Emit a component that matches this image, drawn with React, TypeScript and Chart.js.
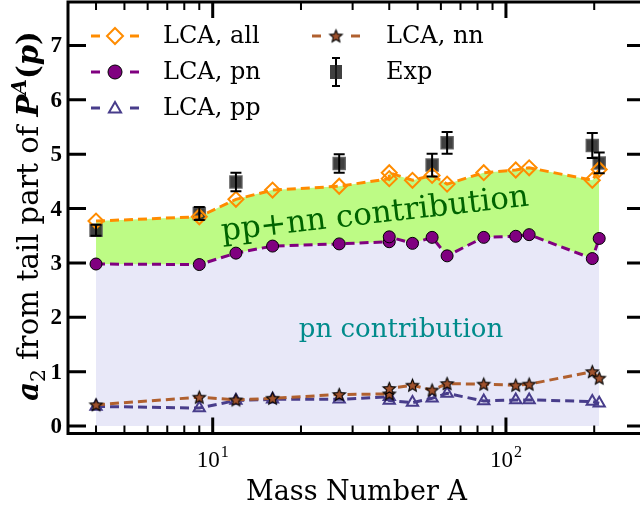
import React, { useEffect, useRef } from 'react';
import { Chart, registerables } from 'chart.js';

Chart.register(...registerables);

// ---------------- data ----------------
const massNumbers = [4, 9, 12, 16, 27, 40, 40, 48, 56, 63, 84, 108, 120, 197, 208];
const lcaAll = [3.77, 3.85, 4.17, 4.34, 4.41, 4.55, 4.66, 4.52, 4.61, 4.45, 4.66, 4.71, 4.75, 4.52, 4.72];
const lcaPn = [2.98, 2.97, 3.18, 3.31, 3.35, 3.39, 3.48, 3.36, 3.47, 3.13, 3.47, 3.49, 3.52, 3.08, 3.45];
const lcaNn = [0.39, 0.53, 0.48, 0.51, 0.58, 0.59, 0.69, 0.75, 0.66, 0.78, 0.77, 0.75, 0.77, 1.0, 0.88];
const lcaPp = [0.36, 0.33, 0.47, 0.49, 0.49, 0.54, 0.47, 0.43, 0.51, 0.6, 0.46, 0.48, 0.48, 0.45, 0.42];
const expMass = [4, 9, 12, 27, 56, 63, 197, 208];
const expA2 = [3.6, 3.91, 4.49, 4.83, 4.8, 5.21, 5.16, 4.84];
const expErr = [0.1, 0.12, 0.17, 0.17, 0.21, 0.2, 0.23, 0.19];
const yTickValues = [0, 1, 2, 3, 4, 5, 6, 7];
const xMajorTicks = [10, 100];
const xMajorLabels = ['1', '2']; // exponents of 10
const xMinorTicks = [4, 5, 6, 7, 8, 9, 20, 30, 40, 50, 60, 70, 80, 90, 200];
const legendLabels = ['LCA, all', 'LCA, pn', 'LCA, pp', 'LCA, nn', 'Exp'];

// ---------------- styles ----------------
const ORANGE = '#ff8c00';
const PURPLE = '#800080';
const PP_COLOR = '#483d8b';
const NN_COLOR = '#b0602f';
const NN_FILL = '#a0522d';
const GREEN_FILL = '#bdfb85';
const LAVENDER = '#e8e8f8';
const SERIF = '"DejaVu Serif", serif';
const NUMF = '"Liberation Serif", serif';

function makeStar(r: number, fill: string): HTMLCanvasElement {
  const size = Math.ceil(r * 2 + 4);
  const c = document.createElement('canvas');
  c.width = size;
  c.height = size;
  const ctx = c.getContext('2d')!;
  const cx = size / 2;
  const cy = size / 2 + 0.5;
  ctx.beginPath();
  for (let i = 0; i < 10; i++) {
    const rad = i % 2 === 0 ? r : r * 0.45;
    const a = -Math.PI / 2 + (i * Math.PI) / 5;
    const px = cx + rad * Math.cos(a);
    const py = cy + rad * Math.sin(a);
    if (i === 0) ctx.moveTo(px, py);
    else ctx.lineTo(px, py);
  }
  ctx.closePath();
  ctx.fillStyle = fill;
  ctx.fill();
  ctx.lineWidth = 1.1;
  ctx.strokeStyle = '#000';
  ctx.stroke();
  return c;
}

function drawDiamond(ctx: CanvasRenderingContext2D, x: number, y: number, r: number) {
  ctx.beginPath();
  ctx.moveTo(x, y - r);
  ctx.lineTo(x + r, y);
  ctx.lineTo(x, y + r);
  ctx.lineTo(x - r, y);
  ctx.closePath();
  ctx.strokeStyle = ORANGE;
  ctx.lineWidth = 2;
  ctx.stroke();
}
function drawCircle(ctx: CanvasRenderingContext2D, x: number, y: number, r: number) {
  ctx.beginPath();
  ctx.arc(x, y, r, 0, Math.PI * 2);
  ctx.fillStyle = PURPLE;
  ctx.fill();
  ctx.strokeStyle = '#000';
  ctx.lineWidth = 1;
  ctx.stroke();
}
function drawTriangle(ctx: CanvasRenderingContext2D, x: number, y: number, r: number) {
  ctx.beginPath();
  let rad = 0;
  ctx.moveTo(x + Math.sin(rad) * r, y - Math.cos(rad) * r);
  rad += (2 * Math.PI) / 3;
  ctx.lineTo(x + Math.sin(rad) * r, y - Math.cos(rad) * r);
  rad += (2 * Math.PI) / 3;
  ctx.lineTo(x + Math.sin(rad) * r, y - Math.cos(rad) * r);
  ctx.closePath();
  ctx.strokeStyle = PP_COLOR;
  ctx.lineWidth = 2;
  ctx.stroke();
}

const customPlugin = {
  id: 'customDecor',
  beforeDatasetsDraw(chart: any) {
    const ctx: CanvasRenderingContext2D = chart.ctx;
    ctx.save();
    // pp+nn contribution
    ctx.translate(375, 215);
    ctx.rotate((-6.5 * Math.PI) / 180);
    ctx.font = `31px ${SERIF}`;
    ctx.fillStyle = '#006400';
    ctx.textAlign = 'center';
    ctx.textBaseline = 'middle';
    ctx.fillText('pp+nn contribution', 0, 0);
    ctx.restore();
    ctx.save();
    ctx.font = `26px ${SERIF}`;
    ctx.fillStyle = '#008b8b';
    ctx.textAlign = 'center';
    ctx.textBaseline = 'middle';
    ctx.fillText('pn contribution', 401, 330);
    ctx.restore();
  },
  afterDatasetsDraw(chart: any) {
    const ctx: CanvasRenderingContext2D = chart.ctx;
    const xs = chart.scales.x;
    const ys = chart.scales.y;
    ctx.save();
    ctx.strokeStyle = '#000';
    ctx.lineWidth = 2;
    for (let i = 0; i < expMass.length; i++) {
      const x = xs.getPixelForValue(expMass[i]);
      const y1 = ys.getPixelForValue(expA2[i] - expErr[i]);
      const y2 = ys.getPixelForValue(expA2[i] + expErr[i]);
      ctx.beginPath();
      ctx.moveTo(x, y1);
      ctx.lineTo(x, y2);
      ctx.moveTo(x - 5.5, y1);
      ctx.lineTo(x + 5.5, y1);
      ctx.moveTo(x - 5.5, y2);
      ctx.lineTo(x + 5.5, y2);
      ctx.stroke();
    }
    ctx.restore();
  },
  afterDraw(chart: any) {
    const ctx: CanvasRenderingContext2D = chart.ctx;
    const a = chart.chartArea;
    const xs = chart.scales.x;
    const ys = chart.scales.y;
    ctx.save();
    ctx.strokeStyle = '#000';
    ctx.fillStyle = '#000';
    ctx.lineCap = 'butt';
    // frame
    ctx.lineWidth = 3;
    ctx.strokeRect(a.left, a.top, a.right - a.left, a.bottom - a.top);
    // y ticks
    ctx.lineWidth = 3;
    for (const v of yTickValues) {
      const y = ys.getPixelForValue(v);
      ctx.beginPath();
      ctx.moveTo(a.left, y);
      ctx.lineTo(a.left + 18, y);
      ctx.moveTo(a.right, y);
      ctx.lineTo(a.right - 18, y);
      ctx.stroke();
    }
    // x major ticks
    for (const v of xMajorTicks) {
      const x = xs.getPixelForValue(v);
      ctx.beginPath();
      ctx.moveTo(x, a.bottom);
      ctx.lineTo(x, a.bottom - 16);
      ctx.moveTo(x, a.top);
      ctx.lineTo(x, a.top + 16);
      ctx.stroke();
    }
    ctx.lineWidth = 2;
    for (const v of xMinorTicks) {
      const x = xs.getPixelForValue(v);
      ctx.beginPath();
      ctx.moveTo(x, a.bottom);
      ctx.lineTo(x, a.bottom - 8);
      ctx.moveTo(x, a.top);
      ctx.lineTo(x, a.top + 8);
      ctx.stroke();
    }
    // y tick labels
    ctx.font = `bold 23px ${NUMF}`;
    ctx.textAlign = 'right';
    ctx.textBaseline = 'middle';
    for (const v of yTickValues) {
      ctx.fillText(String(v), 62, ys.getPixelForValue(v) + 1);
    }
    // x tick labels 10^n
    ctx.textBaseline = 'alphabetic';
    ctx.textAlign = 'left';
    xMajorTicks.forEach((v, i) => {
      const x = xs.getPixelForValue(v);
      ctx.font = `23px ${NUMF}`;
      const w1 = ctx.measureText('10').width;
      ctx.font = `16px ${NUMF}`;
      const w2 = ctx.measureText(xMajorLabels[i]).width;
      const start = x - (w1 + w2 + 1) / 2;
      ctx.font = `23px ${NUMF}`;
      ctx.fillText('10', start, 467);
      ctx.font = `16px ${NUMF}`;
      ctx.fillText(xMajorLabels[i], start + w1 + 1, 457);
    });
    // x title
    ctx.font = `27px ${SERIF}`;
    ctx.textAlign = 'center';
    ctx.fillText('Mass Number A', (a.left + a.right) / 2, 500);

    // y title (rich text, rotated)
    const buildRuns = (S: number) => [
      { t: 'a', f: `italic bold ${S.toFixed(1)}px ${SERIF}`, dy: 0 },
      { t: '2', f: `${(S * 0.7).toFixed(1)}px ${SERIF}`, dy: S * 0.25 },
      { t: ' from tail part of ', f: `${S.toFixed(1)}px ${SERIF}`, dy: 0 },
      { t: 'P', f: `italic bold ${S.toFixed(1)}px ${SERIF}`, dy: 0 },
      { t: 'A', f: `italic bold ${(S * 0.7).toFixed(1)}px ${SERIF}`, dy: -S * 0.42 },
      { t: '(', f: `bold ${S.toFixed(1)}px ${SERIF}`, dy: 0 },
      { t: 'p', f: `italic bold ${S.toFixed(1)}px ${SERIF}`, dy: 0 },
      { t: ')', f: `bold ${S.toFixed(1)}px ${SERIF}`, dy: 0 },
    ];
    const measure = (runs: any[]) => {
      let total = 0;
      const ws: number[] = [];
      for (const r of runs) {
        ctx.font = r.f;
        const w = ctx.measureText(r.t).width;
        ws.push(w);
        total += w;
      }
      return { total, ws };
    };
    let S = 25;
    let m = measure(buildRuns(S));
    S = Math.min(29, S * (370 / m.total));
    const runs = buildRuns(S);
    m = measure(runs);
    ctx.save();
    ctx.translate(38, 216);
    ctx.rotate(-Math.PI / 2);
    ctx.textAlign = 'left';
    ctx.textBaseline = 'alphabetic';
    let cx = -m.total / 2;
    runs.forEach((r, i) => {
      ctx.font = r.f;
      ctx.fillText(r.t, cx, r.dy);
      cx += m.ws[i];
    });
    ctx.restore();

    // legend
    const rows = [36, 72, 108];
    ctx.textAlign = 'left';
    ctx.textBaseline = 'middle';
    const dash = (x1: number, x2: number, y: number, color: string) => {
      ctx.strokeStyle = color;
      ctx.lineWidth = 3;
      ctx.beginPath();
      ctx.moveTo(x1, y);
      ctx.lineTo(x2, y);
      ctx.stroke();
    };
    // col 1
    const c1m = 115;
    dash(91, 100, rows[0], ORANGE);
    dash(130, 139, rows[0], ORANGE);
    drawDiamond(ctx, c1m, rows[0], 8);
    dash(91, 100, rows[1], PURPLE);
    dash(130, 139, rows[1], PURPLE);
    drawCircle(ctx, c1m, rows[1], 7);
    dash(91, 100, rows[2], PP_COLOR);
    dash(130, 139, rows[2], PP_COLOR);
    drawTriangle(ctx, c1m, rows[2] + 1, 7);
    // col 2
    const c2m = 336;
    dash(312, 321, rows[0], NN_COLOR);
    dash(351, 360, rows[0], NN_COLOR);
    const star = makeStar(6.5, NN_FILL);
    ctx.drawImage(star, c2m - star.width / 2, rows[0] - star.height / 2);
    // Exp marker
    ctx.strokeStyle = '#000';
    ctx.lineWidth = 2;
    ctx.beginPath();
    ctx.moveTo(c2m, rows[1] - 14);
    ctx.lineTo(c2m, rows[1] + 14);
    ctx.moveTo(c2m - 4, rows[1] - 14);
    ctx.lineTo(c2m + 4, rows[1] - 14);
    ctx.moveTo(c2m - 4, rows[1] + 14);
    ctx.lineTo(c2m + 4, rows[1] + 14);
    ctx.stroke();
    ctx.fillStyle = 'rgba(30,30,30,0.85)';
    ctx.fillRect(c2m - 6, rows[1] - 7, 12, 14);
    ctx.fillStyle = '#000';
    ctx.font = `24px ${SERIF}`;
    ctx.fillText(legendLabels[0], 163, rows[0] + 1);
    ctx.fillText(legendLabels[1], 163, rows[1] + 1);
    ctx.fillText(legendLabels[2], 163, rows[2] + 1);
    ctx.fillText(legendLabels[3], 386, rows[0] + 1);
    ctx.fillText(legendLabels[4], 386, rows[1] + 1);
    ctx.restore();
  },
};

export default function App() {
  const ref = useRef<HTMLCanvasElement>(null);
  useEffect(() => {
    const canvas = ref.current!;
    const pts = (ys: number[]) => massNumbers.map((x, i) => ({ x, y: ys[i] }));
    const starImg = makeStar(6.5, NN_FILL);
    const chart = new Chart(canvas, {
      type: 'line',
      data: {
        datasets: [
          {
            label: legendLabels[0],
            data: pts(lcaAll),
            borderColor: ORANGE,
            borderWidth: 3,
            borderDash: [9, 5],
            pointStyle: 'rectRot',
            pointRadius: 7.5,
            pointBorderWidth: 2,
            pointBorderColor: ORANGE,
            pointBackgroundColor: 'rgba(0,0,0,0)',
            backgroundColor: GREEN_FILL,
            fill: '+1',
            tension: 0,
          },
          {
            label: legendLabels[1],
            data: pts(lcaPn),
            borderColor: PURPLE,
            borderWidth: 3,
            borderDash: [9, 5],
            pointStyle: 'circle',
            pointRadius: 6,
            pointBorderWidth: 1,
            pointBorderColor: '#000',
            pointBackgroundColor: PURPLE,
            backgroundColor: LAVENDER,
            fill: 'origin',
            tension: 0,
          },
          {
            label: legendLabels[3],
            data: pts(lcaNn),
            borderColor: NN_COLOR,
            borderWidth: 3,
            borderDash: [9, 5],
            pointStyle: starImg as any,
            pointRadius: 6,
            fill: false,
            tension: 0,
          },
          {
            label: legendLabels[2],
            data: pts(lcaPp),
            borderColor: PP_COLOR,
            borderWidth: 3,
            borderDash: [9, 5],
            pointStyle: 'triangle',
            pointRadius: 6.5,
            pointBorderWidth: 2,
            pointBorderColor: PP_COLOR,
            pointBackgroundColor: 'rgba(0,0,0,0)',
            fill: false,
            tension: 0,
          },
          {
            label: legendLabels[4],
            data: expMass.map((x, i) => ({ x, y: expA2[i] })),
            showLine: false,
            pointStyle: 'rect',
            pointRadius: 8.5,
            pointBorderWidth: 1.5,
            pointBorderColor: 'rgba(90,90,90,0.9)',
            pointBackgroundColor: 'rgba(30,30,30,0.85)',
            fill: false,
          },
        ],
      },
      options: {
        animation: false,
        responsive: false,
        devicePixelRatio: 1,
        events: [],
        layout: { autoPadding: false, padding: { left: 68, right: 3, top: 2, bottom: 75.5 } },
        scales: {
          x: { type: 'logarithmic', display: false, min: 3.21, max: 298, bounds: 'data' },
          y: { type: 'linear', display: false, min: -0.138, max: 7.8 },
        },
        plugins: {
          legend: { display: false },
          tooltip: { enabled: false },
          filler: { drawTime: 'beforeDatasetsDraw' },
        },
      } as any,
      plugins: [customPlugin],
    });
    return () => chart.destroy();
  }, []);
  return (
    <div
      style={{
        position: 'fixed',
        left: 0,
        top: 0,
        width: 640,
        height: 509,
        overflow: 'hidden',
        background: '#fff',
      }}
    >
      <canvas ref={ref} width={648} height={509} style={{ display: 'block', width: 648, height: 509 }} />
    </div>
  );
}
